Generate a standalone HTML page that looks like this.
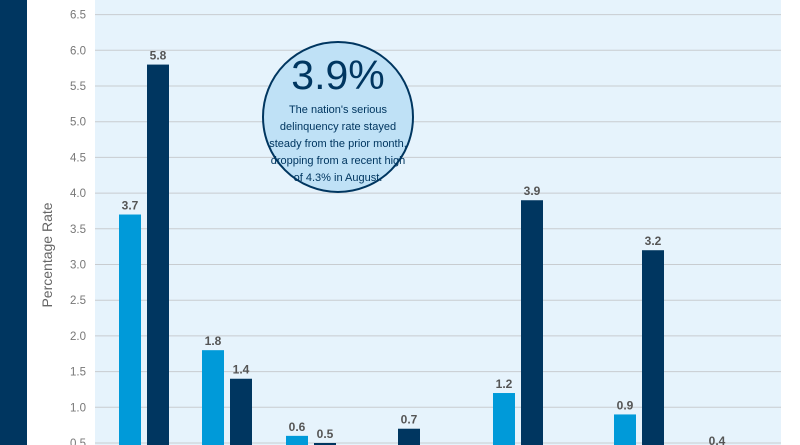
<!DOCTYPE html>
<html><head><meta charset="utf-8"><style>
html,body{margin:0;padding:0;width:800px;height:445px;overflow:hidden;background:#fff;font-family:"Liberation Sans",sans-serif}
svg{display:block}
</style></head><body>
<svg id="c" width="800" height="445" xmlns="http://www.w3.org/2000/svg">
<rect x="0" y="0" width="27" height="445" fill="#003660"/>
<rect x="95" y="0" width="686" height="445" fill="#e6f3fc"/>
<g id="grid"></g><g id="bars"></g>
<text x="52" y="255" transform="rotate(-90 52 255)" text-anchor="middle" font-size="14" fill="#666">Percentage Rate</text>
<g>
<circle cx="338" cy="117" r="75" fill="#bfe1f6" stroke="#003660" stroke-width="2"/>
<text x="338" y="89" text-anchor="middle" font-size="41" fill="#003660">3.9%</text>
<g font-size="11" fill="#003660" text-anchor="middle">
<text x="338" y="113">The nation's serious</text>
<text x="338" y="130">delinquency rate stayed</text>
<text x="338" y="147">steady from the prior month,</text>
<text x="338" y="164">dropping from a recent high</text>
<text x="338" y="181">of 4.3% in August.</text>
</g></g>
</svg>
<script>
const categories=["A","B","C","D","E","F","G"];
const seriesLight=[3.7,1.8,0.6,0,1.2,0.9,0];
const seriesDark=[5.8,1.4,0.5,0.7,3.9,3.2,0.4];
const yTicks=[0.5,1.0,1.5,2.0,2.5,3.0,3.5,4.0,4.5,5.0,5.5,6.0,6.5];
const slotCenters=[144,227,311,395,518,639,703];
const NS="http://www.w3.org/2000/svg";
const y=v=>478.7-v*71.4;
const g=document.getElementById('grid'),b=document.getElementById('bars');
function mk(tag,at,p){const e=document.createElementNS(NS,tag);for(const k in at)e.setAttribute(k,at[k]);p.appendChild(e);return e;}
yTicks.forEach(t=>{
 const l=mk('line',{x1:95,x2:781,y1:y(t),y2:y(t),stroke:'#c8ccd0','stroke-width':1},g);
 
 
 const tx=mk('text',{x:86,y:y(t)+4,'text-anchor':'end','font-size':11.5,fill:'#777'},g);
 tx.textContent=t.toFixed(1);
 
 
});
categories.forEach((c,i)=>{
 [[seriesLight,'#009ad9',-14],[seriesDark,'#003660',14]].forEach(([s,col,off])=>{
  const v=s[i]; if(!v) return;
  const cx=slotCenters[i]+off;
  const r=mk('rect',{x:cx-11,y:y(v),width:22,height:478.7-y(v),fill:col},b);
  
  
  const t=mk('text',{x:cx,y:y(v)-5,'text-anchor':'middle','font-size':12,'font-weight':'bold',fill:'#555'},b);
  t.textContent=v.toFixed(1);
  
  
 });
});
</script>
</body></html>
